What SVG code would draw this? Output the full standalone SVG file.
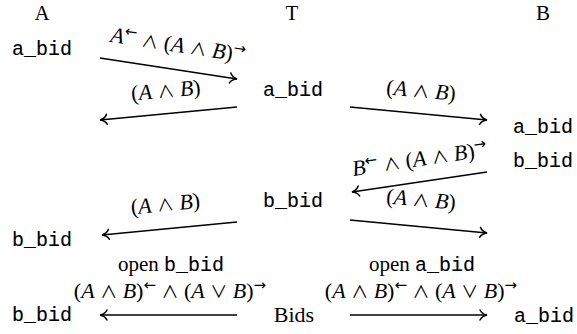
<svg xmlns="http://www.w3.org/2000/svg" width="577" height="334" viewBox="0 0 577 334">
<style>
.s{font-family:"Liberation Serif","DejaVu Serif",serif;font-size:21px;fill:#000}
.m{font-family:"Liberation Mono","DejaVu Sans Mono",monospace;font-size:20px;fill:#000;stroke:#000;stroke-width:0.12}
.math{font-family:"Liberation Serif","DejaVu Serif",serif;font-size:22px;fill:#000}
.i{font-style:italic}
.sup{font-family:"DejaVu Sans",sans-serif;font-size:15px}
.op{font-family:"Noto Sans CJK JP","DejaVu Sans",sans-serif;font-size:17px}
.c{stroke:#000;stroke-width:1.7;fill:none;marker-end:url(#arr)}
</style>
<defs>
<marker id="arr" markerUnits="userSpaceOnUse" orient="auto" overflow="visible" markerWidth="10" markerHeight="10" refX="0" refY="0">
<path d="M-7,-5 C-5.5,-2 -2.5,-0.5 0,0 C-2.5,0.5 -5.5,2 -7,5" fill="none" stroke="#000" stroke-width="1.5" stroke-linecap="round"/>
</marker>
</defs>
<g id="hdrA"><text class="s" x="42" y="20" text-anchor="middle">A</text></g>
<g id="hdrT"><text class="s" x="292" y="20" text-anchor="middle">T</text></g>
<g id="hdrB"><text class="s" x="543" y="20" text-anchor="middle">B</text></g>
<g id="A_abid"><text class="m" x="12" y="55">a_bid</text></g>
<g id="T_abid"><text class="m" x="263" y="96">a_bid</text></g>
<g id="B_abid"><text class="m" x="513" y="133">a_bid</text></g>
<g id="B_bbid"><text class="m" x="513" y="167">b_bid</text></g>
<g id="T_bbid"><text class="m" x="263" y="207">b_bid</text></g>
<g id="A_bbid"><text class="m" x="12" y="246">b_bid</text></g>
<g id="A_bbid2"><text class="m" x="12" y="321">b_bid</text></g>
<g id="Bids"><text class="s" x="294" y="322" text-anchor="middle" style="font-size:22px">Bids</text></g>
<g id="B_abid2"><text class="m" x="514" y="322">a_bid</text></g>
<g id="connectors">
<path class="c" d="M100,58 L237,79"/>
<path class="c" d="M237,107 L100,120"/>
<path class="c" d="M350,107 L487,120"/>
<path class="c" d="M487,172 L352,192"/>
<path class="c" d="M350,220 L487,233"/>
<path class="c" d="M237,222 L102,235"/>
<path class="c" d="M237,315 L100,315"/>
<path class="c" d="M350,315 L487,315"/>
<text class="math" text-anchor="middle" transform="translate(177,52) rotate(8.71)"><tspan class="i">A</tspan><tspan class="sup" dy="-8">←</tspan><tspan dy="8"> </tspan><tspan class="op">∧</tspan> (<tspan class="i">A</tspan> <tspan class="op">∧</tspan> <tspan class="i">B</tspan>)<tspan class="sup" dy="-8">→</tspan></text>
<text class="math" text-anchor="middle" transform="translate(166.5,97.5) rotate(-5.42)">(<tspan class="i">A</tspan> <tspan class="op">∧</tspan> <tspan class="i">B</tspan>)</text>
<text class="math" text-anchor="middle" transform="translate(420.5,97.5) rotate(5.42)">(<tspan class="i">A</tspan> <tspan class="op">∧</tspan> <tspan class="i">B</tspan>)</text>
<text class="math" text-anchor="middle" transform="translate(420.5,166) rotate(-8.43)"><tspan class="i">B</tspan><tspan class="sup" dy="-8">←</tspan><tspan dy="8"> </tspan><tspan class="op">∧</tspan> (<tspan class="i">A</tspan> <tspan class="op">∧</tspan> <tspan class="i">B</tspan>)<tspan class="sup" dy="-8">→</tspan></text>
<text class="math" text-anchor="middle" transform="translate(420.5,206.5) rotate(5.42)">(<tspan class="i">A</tspan> <tspan class="op">∧</tspan> <tspan class="i">B</tspan>)</text>
<text class="math" text-anchor="middle" transform="translate(166,211) rotate(-5.5)">(<tspan class="i">A</tspan> <tspan class="op">∧</tspan> <tspan class="i">B</tspan>)</text>
<text class="s" x="171" y="271" text-anchor="middle">open <tspan class="m">b_bid</tspan></text>
<text class="math" x="170" y="298" text-anchor="middle">(<tspan class="i">A</tspan> <tspan class="op">∧</tspan> <tspan class="i">B</tspan>)<tspan class="sup" dy="-8">←</tspan><tspan dy="8"> </tspan><tspan class="op">∧</tspan> (<tspan class="i">A</tspan> <tspan class="op">∨</tspan> <tspan class="i">B</tspan>)<tspan class="sup" dy="-8">→</tspan></text>
<text class="s" x="422" y="271" text-anchor="middle">open <tspan class="m">a_bid</tspan></text>
<text class="math" x="421" y="298" text-anchor="middle">(<tspan class="i">A</tspan> <tspan class="op">∧</tspan> <tspan class="i">B</tspan>)<tspan class="sup" dy="-8">←</tspan><tspan dy="8"> </tspan><tspan class="op">∧</tspan> (<tspan class="i">A</tspan> <tspan class="op">∨</tspan> <tspan class="i">B</tspan>)<tspan class="sup" dy="-8">→</tspan></text>
</g>
</svg>
